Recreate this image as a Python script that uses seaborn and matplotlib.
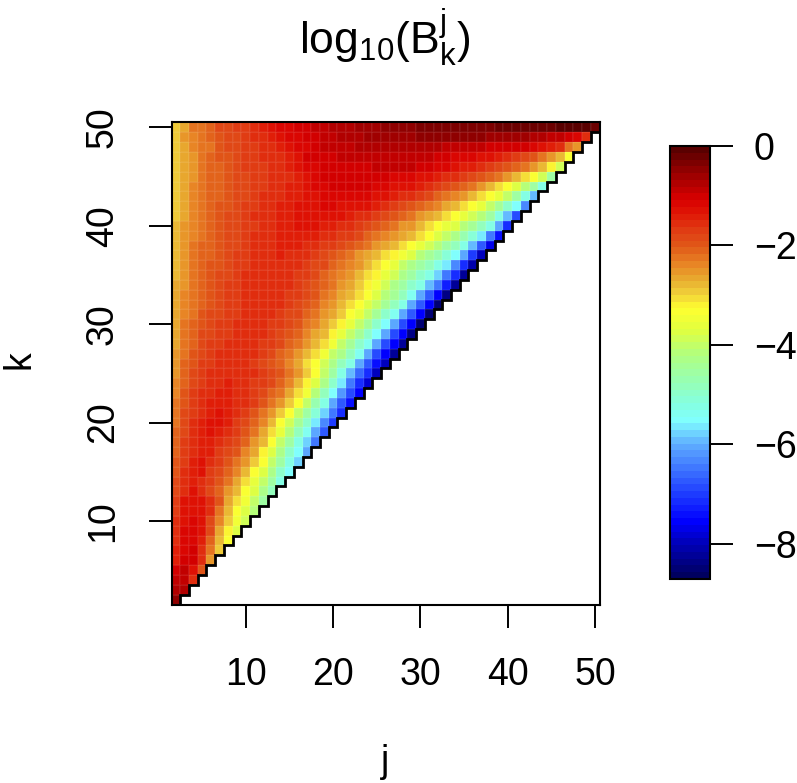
import numpy as np
import pandas as pd
import matplotlib
matplotlib.use("Agg")
import matplotlib.pyplot as plt
from matplotlib.colors import LinearSegmentedColormap
import seaborn as sns

# log10 values, each row runs j = 2 .. k
k02 = [-0.45]
k03 = [-0.7, -0.8]
k04 = [-0.95, -0.85, -1.55]
k05 = [-1.0, -0.95, -1.3, -2.0]
k06 = [-1.4, -1.0, -1.0, -1.55, -2.5]
k07 = [-1.45, -1.1, -1.05, -1.5, -2.3, -2.9]
k08 = [-1.5, -1.2, -1.1, -1.45, -2.1, -2.8, -3.35]
k09 = [-1.55, -1.2, -1.15, -1.35, -1.9, -2.6, -3.15, -3.7]
k10 = [-1.6, -1.25, -1.2, -1.25, -1.8, -2.4, -2.95, -3.45, -3.9]
k11 = [-1.7, -1.3, -1.25, -1.3, -1.6, -2.2, -2.8, -3.3, -3.8, -4.2]
k12 = [-1.75, -1.35, -1.3, -1.35, -1.5, -2.0, -2.6, -3.05, -3.5, -4.0, -4.5]
k13 = [-1.85, -1.5, -1.35, -1.6, -1.85, -2.1, -2.45, -2.85, -3.3, -3.8, -4.3, -4.85]
k14 = [-1.9, -1.55, -1.4, -1.55, -1.7, -1.95, -2.25, -2.65, -3.1, -3.55, -4.05, -4.6, -5.2]
k15 = [-1.95, -1.6, -1.4, -1.35, -1.65, -1.85, -2.1, -2.4, -2.85, -3.3, -3.8, -4.3, -4.9, -5.5]
k16 = [-2.0, -1.65, -1.45, -1.35, -1.6, -1.7, -1.95, -2.2, -2.55, -2.95, -3.4, -4.0, -4.6, -5.2, -5.8]
k17 = [-2.05, -1.7, -1.5, -1.4, -1.4, -1.65, -1.8, -2.0, -2.35, -2.7, -3.15, -3.7, -4.3, -4.9, -5.5, -6.1]
k18 = [-2.1, -1.75, -1.55, -1.4, -1.4, -1.6, -1.7, -1.85, -2.1, -2.45, -2.85, -3.35, -3.95, -4.6, -5.2, -5.8, -6.4]
k19 = [-2.15, -1.8, -1.55, -1.4, -1.35, -1.45, -1.6, -1.75, -1.95, -2.25, -2.6, -3.05, -3.55, -4.15, -4.8, -5.4, -6.0, -6.7]
k20 = [-2.2, -1.85, -1.6, -1.45, -1.35, -1.3, -1.45, -1.65, -1.8, -2.05, -2.4, -2.8, -3.35, -3.9, -4.4, -5.0, -5.6, -6.3, -7.0]
k21 = [-2.25, -1.9, -1.65, -1.5, -1.4, -1.35, -1.45, -1.6, -1.75, -1.95, -2.2, -2.55, -2.95, -3.4, -3.95, -4.5, -5.1, -5.8, -6.5, -7.2]
k22 = [-2.3, -1.95, -1.7, -1.55, -1.45, -1.4, -1.45, -1.55, -1.6, -1.75, -1.95, -2.2, -2.5, -2.9, -3.35, -4.0, -4.7, -5.3, -6.0, -6.7, -7.4]
k23 = [-2.35, -2.0, -1.75, -1.6, -1.5, -1.45, -1.45, -1.5, -1.6, -1.7, -1.85, -2.05, -2.3, -2.65, -3.05, -3.5, -4.2, -4.8, -5.5, -6.2, -6.9, -7.6]
k24 = [-2.4, -2.05, -1.85, -1.65, -1.55, -1.5, -1.45, -1.5, -1.55, -1.65, -1.75, -1.9, -2.15, -2.4, -2.75, -3.15, -3.7, -4.3, -5.0, -5.7, -6.4, -7.1, -7.8]
k25 = [-2.45, -2.1, -1.9, -1.7, -1.6, -1.55, -1.5, -1.5, -1.55, -1.6, -1.7, -1.85, -2.0, -2.25, -2.55, -2.9, -3.35, -4.0, -4.6, -5.2, -5.9, -6.6, -7.2, -7.9]
k26 = [-2.5, -2.15, -1.95, -1.75, -1.65, -1.6, -1.55, -1.5, -1.6, -1.7, -1.8, -1.95, -2.15, -2.4, -2.7, -3.0, -3.4, -3.9, -4.3, -4.8, -5.3, -6.0, -6.8, -7.4, -8.0]
k27 = [-2.55, -2.2, -2.0, -1.8, -1.7, -1.6, -1.55, -1.5, -1.55, -1.6, -1.7, -1.85, -2.05, -2.25, -2.5, -2.8, -3.1, -3.5, -3.95, -4.35, -4.85, -5.4, -6.1, -6.9, -7.5, -8.2]
k28 = [-2.6, -2.25, -2.05, -1.85, -1.75, -1.65, -1.6, -1.55, -1.5, -1.6, -1.65, -1.75, -1.9, -2.1, -2.3, -2.55, -2.8, -3.1, -3.5, -3.95, -4.4, -4.9, -5.4, -6.1, -6.9, -7.5, -8.3]
k29 = [-2.6, -2.3, -2.1, -1.9, -1.8, -1.7, -1.65, -1.55, -1.5, -1.55, -1.6, -1.7, -1.8, -1.95, -2.15, -2.35, -2.6, -2.85, -3.15, -3.55, -4.0, -4.45, -4.95, -5.45, -6.1, -6.9, -7.6, -8.4]
k30 = [-2.65, -2.3, -2.15, -1.95, -1.85, -1.75, -1.7, -1.6, -1.55, -1.5, -1.55, -1.65, -1.75, -1.85, -2.0, -2.2, -2.4, -2.65, -2.9, -3.2, -3.6, -4.0, -4.45, -4.95, -5.45, -6.1, -6.9, -7.6, -8.5]
k31 = [-2.65, -2.35, -2.2, -2.0, -1.9, -1.8, -1.7, -1.65, -1.55, -1.5, -1.55, -1.6, -1.7, -1.8, -1.9, -2.05, -2.25, -2.45, -2.7, -2.95, -3.3, -3.65, -4.05, -4.45, -4.9, -5.4, -6.05, -6.8, -7.6, -8.5]
k32 = [-2.7, -2.4, -2.25, -2.05, -1.95, -1.85, -1.75, -1.65, -1.6, -1.55, -1.5, -1.55, -1.6, -1.7, -1.85, -1.95, -2.15, -2.35, -2.55, -2.8, -3.05, -3.35, -3.7, -4.05, -4.4, -4.8, -5.3, -6.0, -6.8, -7.6, -8.5]
k33 = [-2.7, -2.4, -2.25, -2.05, -1.95, -1.85, -1.75, -1.65, -1.6, -1.55, -1.5, -1.55, -1.6, -1.65, -1.75, -1.9, -2.0, -2.2, -2.4, -2.6, -2.85, -3.1, -3.4, -3.75, -4.1, -4.45, -4.85, -5.35, -6.0, -6.7, -7.5, -8.4]
k34 = [-2.7, -2.45, -2.3, -2.1, -2.0, -1.85, -1.75, -1.7, -1.6, -1.55, -1.5, -1.5, -1.55, -1.6, -1.7, -1.8, -1.95, -2.1, -2.3, -2.5, -2.7, -2.95, -3.2, -3.5, -3.9, -4.25, -4.6, -4.95, -5.3, -5.9, -6.5, -7.3, -8.3]
k35 = [-2.75, -2.45, -2.3, -2.15, -2.0, -1.9, -1.8, -1.7, -1.6, -1.55, -1.5, -1.5, -1.55, -1.6, -1.65, -1.75, -1.9, -2.05, -2.2, -2.4, -2.55, -2.75, -3.0, -3.25, -3.6, -3.9, -4.25, -4.6, -4.95, -5.3, -5.8, -6.4, -7.2, -8.2]
k36 = [-2.8, -2.5, -2.3, -2.15, -2.0, -1.95, -1.8, -1.75, -1.65, -1.55, -1.5, -1.5, -1.5, -1.55, -1.6, -1.7, -1.8, -1.9, -2.05, -2.25, -2.4, -2.55, -2.75, -3.0, -3.3, -3.6, -3.95, -4.25, -4.55, -4.85, -5.2, -5.7, -6.3, -7.1, -8.1]
k37 = [-2.85, -2.5, -2.3, -2.15, -2.05, -1.95, -1.85, -1.75, -1.65, -1.6, -1.55, -1.5, -1.45, -1.5, -1.55, -1.6, -1.7, -1.8, -1.95, -2.1, -2.3, -2.45, -2.6, -2.75, -3.0, -3.25, -3.5, -3.8, -4.1, -4.4, -4.7, -5.05, -5.5, -6.1, -7.0, -7.9]
k38 = [-2.85, -2.5, -2.3, -2.15, -2.05, -1.95, -1.85, -1.8, -1.7, -1.6, -1.55, -1.5, -1.45, -1.45, -1.45, -1.5, -1.55, -1.65, -1.75, -1.85, -2.0, -2.15, -2.3, -2.45, -2.6, -2.8, -3.0, -3.3, -3.6, -3.9, -4.2, -4.5, -4.85, -5.3, -5.9, -6.7, -7.7]
k39 = [-2.85, -2.55, -2.35, -2.2, -2.1, -2.0, -1.9, -1.8, -1.7, -1.6, -1.55, -1.5, -1.45, -1.4, -1.4, -1.4, -1.45, -1.5, -1.55, -1.65, -1.75, -1.9, -2.05, -2.2, -2.35, -2.45, -2.6, -2.8, -3.05, -3.35, -3.7, -4.0, -4.35, -4.7, -5.1, -5.6, -6.4, -7.4]
k40 = [-2.85, -2.55, -2.35, -2.2, -2.1, -2.0, -1.9, -1.8, -1.7, -1.65, -1.55, -1.5, -1.45, -1.4, -1.35, -1.35, -1.35, -1.4, -1.45, -1.5, -1.6, -1.7, -1.85, -2.0, -2.15, -2.3, -2.45, -2.55, -2.75, -3.0, -3.3, -3.55, -3.8, -4.1, -4.4, -4.8, -5.3, -6.0, -7.1]
k41 = [-2.9, -2.6, -2.4, -2.25, -2.1, -2.0, -1.9, -1.8, -1.7, -1.6, -1.55, -1.5, -1.45, -1.4, -1.35, -1.3, -1.3, -1.3, -1.3, -1.35, -1.4, -1.5, -1.6, -1.7, -1.85, -2.0, -2.15, -2.3, -2.45, -2.6, -2.8, -3.05, -3.3, -3.55, -3.85, -4.2, -4.6, -5.2, -5.9, -6.9]
k42 = [-2.9, -2.6, -2.4, -2.3, -2.15, -2.0, -1.95, -1.85, -1.75, -1.65, -1.55, -1.5, -1.45, -1.4, -1.35, -1.3, -1.25, -1.2, -1.2, -1.25, -1.25, -1.3, -1.35, -1.45, -1.55, -1.65, -1.8, -1.95, -2.1, -2.25, -2.4, -2.6, -2.8, -3.05, -3.3, -3.6, -3.95, -4.4, -4.9, -5.5, -6.3]
k43 = [-2.9, -2.6, -2.4, -2.3, -2.15, -2.05, -1.95, -1.85, -1.8, -1.7, -1.6, -1.55, -1.5, -1.45, -1.4, -1.3, -1.25, -1.2, -1.15, -1.15, -1.15, -1.15, -1.2, -1.25, -1.3, -1.4, -1.5, -1.6, -1.75, -1.9, -2.05, -2.2, -2.4, -2.55, -2.75, -3.0, -3.3, -3.6, -4.05, -4.6, -5.2, -5.9]
k44 = [-2.9, -2.65, -2.4, -2.3, -2.15, -2.05, -1.95, -1.85, -1.8, -1.7, -1.65, -1.55, -1.5, -1.45, -1.4, -1.35, -1.2, -1.1, -1.05, -1.05, -1.05, -1.05, -1.05, -1.1, -1.15, -1.25, -1.3, -1.35, -1.45, -1.55, -1.7, -1.85, -2.0, -2.15, -2.3, -2.5, -2.75, -3.0, -3.3, -3.7, -4.1, -4.6, -5.2]
k45 = [-2.9, -2.65, -2.45, -2.3, -2.15, -2.05, -1.95, -1.9, -1.8, -1.7, -1.65, -1.6, -1.55, -1.5, -1.4, -1.3, -1.15, -1.05, -1.0, -1.0, -1.0, -1.0, -1.0, -1.05, -1.05, -1.1, -1.15, -1.2, -1.25, -1.35, -1.4, -1.5, -1.6, -1.7, -1.85, -2.0, -2.15, -2.3, -2.55, -2.8, -3.1, -3.4, -3.9, -4.5]
k46 = [-2.9, -2.65, -2.45, -2.3, -2.15, -2.05, -1.95, -1.85, -1.75, -1.7, -1.65, -1.55, -1.5, -1.45, -1.3, -1.2, -1.1, -1.05, -1.0, -1.0, -1.0, -1.0, -1.0, -0.95, -0.95, -0.95, -0.95, -0.95, -1.0, -1.05, -1.1, -1.2, -1.3, -1.4, -1.45, -1.55, -1.65, -1.8, -1.95, -2.1, -2.3, -2.55, -2.85, -3.2, -3.85]
k47 = [-2.9, -2.65, -2.45, -2.3, -2.15, -2.0, -1.95, -1.85, -1.75, -1.7, -1.6, -1.55, -1.5, -1.4, -1.3, -1.05, -1.0, -1.0, -1.0, -0.95, -0.95, -0.95, -0.9, -0.9, -0.85, -0.85, -0.85, -0.9, -0.9, -0.95, -1.0, -1.05, -1.1, -1.15, -1.2, -1.25, -1.3, -1.4, -1.5, -1.65, -1.8, -2.0, -2.2, -2.5, -2.85, -3.3]
k48 = [-2.9, -2.6, -2.4, -2.3, -2.2, -2.0, -1.9, -1.8, -1.7, -1.65, -1.55, -1.5, -1.4, -1.3, -1.2, -1.1, -1.0, -0.95, -0.9, -0.85, -0.85, -0.8, -0.75, -0.7, -0.7, -0.7, -0.7, -0.7, -0.75, -0.8, -0.8, -0.85, -0.85, -0.9, -0.95, -0.95, -1.0, -1.0, -1.0, -1.0, -1.05, -1.2, -1.25, -1.4, -1.6, -2.2, -2.55]
k49 = [-2.9, -2.55, -2.35, -2.25, -2.1, -2.0, -1.85, -1.8, -1.7, -1.6, -1.5, -1.4, -1.3, -1.2, -1.1, -1.05, -1.0, -0.95, -0.85, -0.8, -0.75, -0.7, -0.65, -0.65, -0.6, -0.6, -0.55, -0.55, -0.5, -0.5, -0.5, -0.5, -0.5, -0.5, -0.5, -0.5, -0.55, -0.55, -0.6, -0.6, -0.65, -0.7, -0.75, -0.85, -0.95, -1.05, -1.1, -1.5]
k50 = [-2.95, -2.6, -2.3, -2.2, -2.05, -1.9, -1.85, -1.75, -1.65, -1.5, -1.4, -1.3, -1.2, -1.1, -1.05, -1.0, -0.95, -0.9, -0.8, -0.75, -0.7, -0.65, -0.6, -0.55, -0.5, -0.5, -0.45, -0.45, -0.4, -0.4, -0.4, -0.35, -0.35, -0.35, -0.3, -0.3, -0.3, -0.25, -0.25, -0.25, -0.2, -0.2, -0.15, -0.15, -0.1, -0.1, -0.1, -0.1, -0.15]

filas = [k02, k03, k04, k05, k06, k07, k08, k09, k10, k11, k12, k13, k14, k15, k16, k17, k18,
         k19, k20, k21, k22, k23, k24, k25, k26, k27, k28, k29, k30, k31, k32, k33, k34, k35,
         k36, k37, k38, k39, k40, k41, k42, k43, k44, k45, k46, k47, k48, k49, k50]
j_vals = list(range(2, 51))
k_vals = list(range(2, 51))
ticks_j = [10, 20, 30, 40, 50]
ticks_k = [10, 20, 30, 40, 50]
ticks_cbar = [0, -2, -4, -6, -8]

# colour scale picked off the colour bar
escala_min = -8.71
pontos = [-8.71, -8, -7.6, -7, -6.5, -6, -5.55, -5.2, -4.7, -4.2, -3.7, -3.25, -2.95, -2.7,
          -2.35, -2, -1.7, -1.3, -1.02, -0.55, 0]
cores = ["#000060", "#0000c0", "#0000ff", "#2040ff", "#4078ff", "#60b0ff", "#80ffff", "#85ffe0",
         "#98ffb0", "#b0ff80", "#e0ff40", "#ffff30", "#f0d03a", "#e8b030", "#e88525", "#e05a18",
         "#e04015", "#e01505", "#d80000", "#a00000", "#5a0000"]
norm_pontos = [(p - escala_min) / (0 - escala_min) for p in pontos]
cmap = LinearSegmentedColormap.from_list("barra", list(zip(norm_pontos, cores)), N=64)

matriz = np.full((len(k_vals), len(j_vals)), np.nan)
for i, fila in enumerate(filas):
    if len(fila) != i + 1:
        raise ValueError(f"row k={k_vals[i]} has {len(fila)} values")
    matriz[i, :len(fila)] = fila
df = pd.DataFrame(matriz, index=k_vals, columns=j_vals)

sns.set_theme(style="white")
plt.rcParams['font.family'] = ['Liberation Sans', 'DejaVu Sans']
plt.rcParams['text.color'] = 'black'
plt.rcParams['axes.labelcolor'] = 'black'
plt.rcParams['mathtext.fontset'] = 'custom'
plt.rcParams['mathtext.rm'] = 'Liberation Sans'
plt.rcParams['mathtext.it'] = 'Liberation Sans'
plt.rcParams['mathtext.default'] = 'regular'

W, H = 797, 783
fig = plt.figure(figsize=(W / 100, H / 100), dpi=100)
ax = fig.add_axes([171.5 / W, 1 - 604.5 / H, 428 / W, 482 / H])
cax = fig.add_axes([669.5 / W, 1 - 579 / H, 40.5 / W, 433 / H])

sns.heatmap(df, ax=ax, cmap=cmap, vmin=escala_min, vmax=0, cbar_ax=cax,
            cbar_kws={"ticks": ticks_cbar}, xticklabels=False, yticklabels=False,
            linewidths=0.3, linecolor=(1, 1, 1, 0.05))
ax.invert_yaxis()

# staircase along the diagonal
xs, ys = [], []
for i in range(len(j_vals)):
    xs += [i, i + 1]
    ys += [i, i]
xs.append(len(j_vals))
ys.append(len(j_vals))
ax.plot(xs, ys, color="black", lw=2.0, solid_joinstyle="miter", zorder=4)

ax.set_xticks([j_vals.index(t) + 0.5 for t in ticks_j])
ax.set_xticklabels([str(t) for t in ticks_j])
ax.set_yticks([k_vals.index(t) + 0.5 for t in ticks_k])
ax.set_yticklabels([str(t) for t in ticks_k], rotation=90, va="center")
ax.tick_params(axis="both", length=16.5, width=1.4, color="black", labelcolor="black",
               labelsize=27, bottom=True, left=True)
ax.tick_params(axis="x", pad=21)
ax.tick_params(axis="y", pad=20)
for s in ax.spines.values():
    s.set_visible(True)
    s.set_linewidth(1.5)
    s.set_color("black")

ax.set_xlabel("j", fontsize=27, va="center")
ax.set_ylabel("k", fontsize=27, va="center")
ax.xaxis.set_label_coords((385 - 171.5) / 428, -(762 - 604.5) / 482)
ax.yaxis.set_label_coords(-(171.5 - 19) / 428, (604.5 - 360) / 482)
fig.text(385 / W, 1 - 37 / H, r"$\mathrm{log}_{10}(\mathrm{B}_{k}^{j})$", fontsize=32,
         ha="center", va="center", color="black")

cb = ax.collections[0].colorbar
cb.outline.set_visible(True)
cb.outline.set_linewidth(1.5)
cb.outline.set_edgecolor("black")
cax.tick_params(length=16.5, width=1.4, color="black", labelcolor="black", labelsize=27,
                pad=15, right=True)

fig.savefig("out.png", dpi=100)
